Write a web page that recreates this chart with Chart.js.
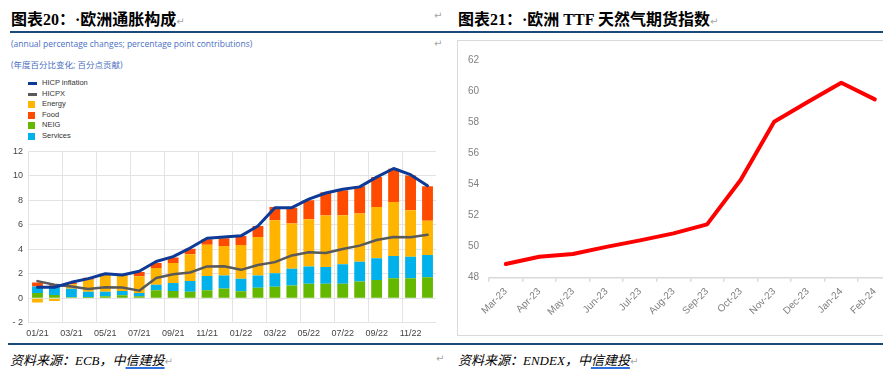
<!DOCTYPE html>
<html>
<head>
<meta charset="utf-8">
<script src="https://cdn.jsdelivr.net/npm/chart.js@4"></script>
<style>
  body { margin: 0; background: #fff; }
  #page { position: relative; width: 883px; height: 377px; overflow: hidden; background: #fff; }
  .abs { position: absolute; white-space: nowrap; }
  .title { font-family: "Liberation Serif", "Noto Sans CJK SC", serif; font-weight: bold; font-size: 16px; color: #000; top: 6px; }
  .title .c { display: inline-block; width: 16px; }
  .ret { font-family: "DejaVu Sans", sans-serif; color: #a6a6a6; font-size: 10px; font-weight: normal; }
  .rule { position: absolute; height: 2px; background: #1b4a7a; }
  .sub { font-family: "Open Sans", "Noto Sans CJK SC", sans-serif; font-size: 8.5px; color: #4a6fc1; left: 11px; }
  .legend { font-family: "Liberation Sans", Arial, sans-serif; font-size: 7.5px; color: #333; left: 28px; }
  .legend div { position: relative; height: 10.6px; line-height: 10.6px; }
  .legend i { position: absolute; left: 0; display: block; }
  .legend span { margin-left: 14px; }
  .src { font-family: "Liberation Serif", "Noto Sans CJK SC", serif; font-style: italic; font-size: 13px; color: #000; top: 350px; }
  .src u { text-decoration-color: #2f6fe0; text-decoration-thickness: 1.5px; text-underline-offset: 2px; }
</style>
</head>
<body>
<div id="page">
  <div class="abs title" style="left:11px;">图表20<span class="c">：</span>·欧洲通胀构成<span class="ret">↵</span></div>
  <div class="abs ret" style="left:434px; top:10px;">↵</div>
  <div class="abs title" style="left:458px;">图表21<span class="c">：</span>·欧洲 TTF 天然气期货指数<span class="ret">↵</span></div>
  <div class="rule" style="left:10px; width:873px; top:31px;"></div>

  <div class="abs sub" style="top:38px;">(annual percentage changes; percentage point contributions)</div>
  <div class="abs ret" style="left:434px; top:38px;">↵</div>
  <div class="abs sub" style="top:58px;">(年度百分比变化; 百分点贡献)</div>

  <div class="abs legend" style="top:78px;">
    <div><i style="top:4px;width:9px;height:3px;background:#0d3a96;"></i><span>HICP inflation</span></div>
    <div><i style="top:4px;width:9px;height:3px;background:#595959;"></i><span>HICPX</span></div>
    <div><i style="top:2px;width:7px;height:7px;background:#ffb400;"></i><span>Energy</span></div>
    <div><i style="top:2px;width:7px;height:7px;background:#ff4b00;"></i><span>Food</span></div>
    <div><i style="top:2px;width:7px;height:7px;background:#65b800;"></i><span>NEIG</span></div>
    <div><i style="top:2px;width:7px;height:7px;background:#00b1ea;"></i><span>Services</span></div>
  </div>

  <div class="abs" style="left:0; top:140px; width:445px; height:200px;">
    <canvas id="euChart" width="445" height="200"></canvas>
  </div>

  <div class="abs" style="left:457px; top:40px; width:440px; height:294px; border:1.5px solid #d9d9d9;"></div>
  <div class="abs" style="left:458px; top:40px; width:442px; height:295px;">
    <canvas id="ttfChart" width="442" height="295"></canvas>
  </div>

  <div class="rule" style="left:8px; width:875px; top:343px; height:1.5px;"></div>
  <div class="abs src" style="left:10px;">资料来源：ECB，中<u>信建投</u><span class="ret">↵</span></div>
  <div class="abs ret" style="left:436px; top:353px;">↵</div>
  <div class="abs src" style="left:458px;">资料来源：ENDEX，中<u>信建投</u><span class="ret">↵</span></div>
</div>

<script>
// left chart: euro area inflation breakdown
const months = ['01/21','02/21','03/21','04/21','05/21','06/21','07/21','08/21','09/21','10/21','11/21','12/21',
                '01/22','02/22','03/22','04/22','05/22','06/22','07/22','08/22','09/22','10/22','11/22','12/22'];
const hicp   = [0.9, 0.9, 1.3, 1.6, 2.0, 1.9, 2.2, 3.0, 3.4, 4.1, 4.9, 5.0, 5.1, 5.9, 7.4, 7.4, 8.1, 8.6, 8.9, 9.1, 9.9, 10.6, 10.1, 9.2];
const hicpx  = [1.4, 1.1, 0.95, 0.75, 0.9, 0.88, 0.62, 1.66, 1.96, 2.1, 2.6, 2.62, 2.32, 2.72, 2.95, 3.5, 3.75, 3.7, 4.02, 4.3, 4.76, 5.0, 4.98, 5.18];
const neig     = [0.42, 0.26, 0.08, 0.1, 0.16, 0.24, 0.16, 0.65, 0.6, 0.52, 0.65, 0.8, 0.58, 0.85, 0.93, 1.04, 1.18, 1.18, 1.18, 1.37, 1.5, 1.64, 1.64, 1.72];
const services = [0.54, 0.68, 0.7, 0.42, 0.36, 0.36, 0.27, 0.46, 0.65, 0.89, 1.17, 1.05, 1.01, 1.0, 1.12, 1.36, 1.41, 1.38, 1.6, 1.62, 1.77, 1.82, 1.76, 1.82];
const energy   = [-0.35, -0.22, 0.36, 1.0, 1.41, 1.28, 1.37, 1.36, 1.63, 2.18, 2.55, 2.42, 2.76, 3.15, 4.33, 3.7, 3.87, 4.2, 4.0, 3.93, 4.19, 4.41, 3.8, 2.79];
const food     = [0.33, 0.12, 0.11, 0.16, 0.07, 0.05, 0.35, 0.41, 0.44, 0.46, 0.45, 0.63, 0.73, 0.9, 1.08, 1.3, 1.54, 1.9, 2.04, 2.23, 2.44, 2.71, 2.84, 2.82];
const euTicks = [-2, 0, 2, 4, 6, 8, 10, 12];

// right chart: TTF gas futures index
const ttfMonths = ['Mar-23','Apr-23','May-23','Jun-23','Jul-23','Aug-23','Sep-23','Oct-23','Nov-23','Dec-23','Jan-24','Feb-24'];
const ttfValues = [48.88, 49.35, 49.52, 49.98, 50.4, 50.85, 51.43, 54.28, 58.03, 59.3, 60.54, 59.47];
const ttfTicks = [48, 50, 52, 54, 56, 58, 60, 62];

const barSet = (label, data, color) => ({
  type: 'bar', label, data, backgroundColor: color, borderWidth: 0,
  barPercentage: 0.64, categoryPercentage: 1
});

new Chart(document.getElementById('euChart'), {
  data: {
    labels: months,
    datasets: [
      { type: 'line', label: 'HICP inflation', data: hicp, stack: 'l1', borderColor: '#0d3a96', borderWidth: 3,
        pointRadius: 0, tension: 0, borderCapStyle: 'round', borderJoinStyle: 'round' },
      { type: 'line', label: 'HICPX', data: hicpx, stack: 'l2', borderColor: '#595959', borderWidth: 2.5,
        pointRadius: 0, tension: 0, borderCapStyle: 'round', borderJoinStyle: 'round' },
      barSet('NEIG', neig, '#65b800'),
      barSet('Services', services, '#00b1ea'),
      barSet('Energy', energy, '#ffb400'),
      barSet('Food', food, '#ff4b00')
    ]
  },
  options: {
    responsive: false,
    animation: false,
    layout: { padding: { top: 11, right: 9, left: 0, bottom: 0 } },
    plugins: { legend: { display: false }, tooltip: { enabled: false } },
    scales: {
      x: {
        stacked: true,
        offset: true,
        afterFit: s => { s.height = 17.3; },
        grid: {
          offset: true, drawTicks: false,
          color: c => (c.index % 2 === 0 ? '#e3e3e3' : 'rgba(0,0,0,0)')
        },
        border: { display: false },
        ticks: {
          autoSkip: false, maxRotation: 0, padding: 5,
          color: '#444', font: { family: 'Liberation Sans', size: 9 },
          callback: (v, i) => (i % 2 === 0 ? months[i] : '')
        }
      },
      y: {
        stacked: true,
        min: -2, max: 12,
        afterFit: s => { s.width = 29; },
        afterBuildTicks: s => { s.ticks = euTicks.map(v => ({ value: v })); },
        grid: { color: '#e3e3e3', drawTicks: false },
        border: { display: false },
        ticks: {
          padding: 6, color: '#444', font: { family: 'Liberation Sans', size: 9 },
          callback: v => (v < 0 ? '- ' + Math.abs(v) : v)
        }
      }
    }
  }
});

new Chart(document.getElementById('ttfChart'), {
  type: 'line',
  data: {
    labels: ttfMonths,
    datasets: [{
      data: ttfValues, borderColor: '#ff0000', borderWidth: 4, pointRadius: 0,
      tension: 0, borderCapStyle: 'round', borderJoinStyle: 'round'
    }]
  },
  options: {
    responsive: false,
    animation: false,
    layout: { padding: { top: 20, right: 8.4, left: 0, bottom: 0 } },
    plugins: { legend: { display: false }, tooltip: { enabled: false } },
    scales: {
      x: {
        offset: true,
        afterFit: s => { s.height = 57.3; },
        grid: { offset: true, drawOnChartArea: false, drawTicks: true, tickLength: 4, color: '#d9d9d9', lineWidth: 1.5 },
        border: { display: true, color: '#d9d9d9', width: 1.5 },
        ticks: {
          autoSkip: false, minRotation: 45, maxRotation: 45, padding: 4,
          color: '#808080', font: { family: 'Liberation Sans', size: 10 }
        }
      },
      y: {
        min: 48, max: 62,
        afterFit: s => { s.width = 31; },
        afterBuildTicks: s => { s.ticks = ttfTicks.map(v => ({ value: v })); },
        grid: { display: false, drawTicks: false },
        border: { display: false },
        ticks: { padding: 10, color: '#808080', font: { family: 'Liberation Sans', size: 10 } }
      }
    }
  }
});
</script>
</body>
</html>
